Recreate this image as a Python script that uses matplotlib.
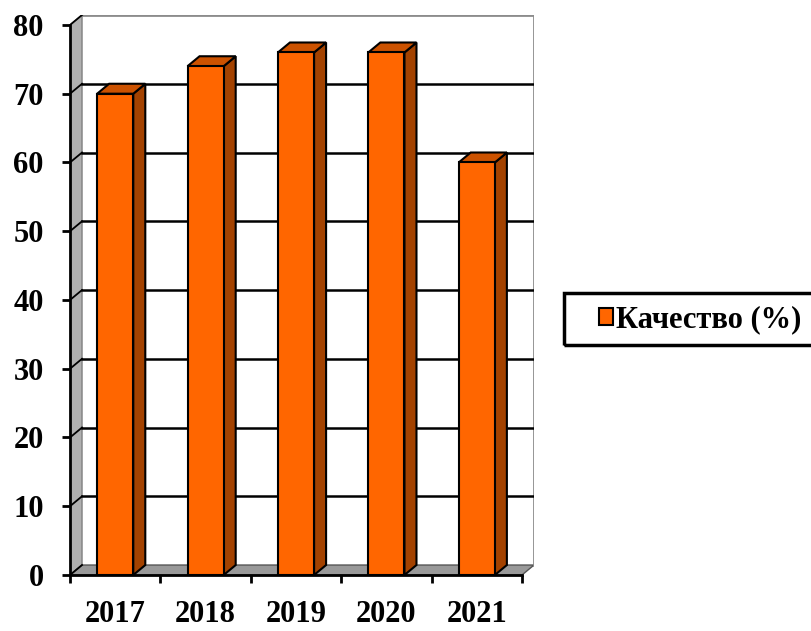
import matplotlib.pyplot as plt
from matplotlib.patches import Polygon, Rectangle, Patch

years = ['2017', '2018', '2019', '2020', '2021']
quality = [70, 74, 76, 76, 60]
series_name = 'Качество (%)'

plt.rcParams['font.family'] = ['Liberation Serif', 'DejaVu Serif']
plt.rcParams['font.weight'] = 'bold'

front = '#FF6600'
side = '#A34200'
top = '#CC5200'

# depth of the fake 3d box (data units)
dx, dy = 0.133, 1.45
ymax = 80
n = len(years)

fig = plt.figure(figsize=(8.11, 6.31), dpi=100)
ax = fig.add_axes([70 / 811, 56 / 631, 464 / 811, 560 / 631])
ax.set_xlim(0, n + dx)
ax.set_ylim(0, ymax + dy)

# left wall and floor
ax.add_patch(Polygon([(0, 0), (dx, dy), (dx, ymax + dy), (0, ymax)],
                     closed=True, facecolor='#B0B0B0', edgecolor='#808080', lw=1, zorder=1))
ax.add_patch(Polygon([(0, 0), (n, 0), (n + dx, dy), (dx, dy)],
                     closed=True, facecolor='#999999', edgecolor='#555555', lw=1, zorder=1))
# back wall border
ax.plot([dx, n + dx, n + dx], [ymax + dy, ymax + dy, dy], color='#8C8C8C', lw=2, zorder=1)

# gridlines on back wall and the short diagonals on left wall
for v in range(10, ymax, 10):
    ax.plot([dx, n + dx], [v + dy, v + dy], color='black', lw=1.8, zorder=2)
for v in range(0, ymax + 1, 10):
    ax.plot([0, dx], [v, v + dy], color='black', lw=1.3, zorder=2)

# bars
w = 0.4
for i, v in enumerate(quality):
    x0 = i + 0.5 - w / 2
    ax.add_patch(Polygon([(x0 + w, 0), (x0 + w + dx, dy), (x0 + w + dx, v + dy), (x0 + w, v)],
                         closed=True, facecolor=side, edgecolor='black', lw=1.5, zorder=3))
    ax.add_patch(Polygon([(x0, v), (x0 + dx, v + dy), (x0 + w + dx, v + dy), (x0 + w, v)],
                         closed=True, facecolor=top, edgecolor='black', lw=1.5, zorder=3))
    ax.add_patch(Rectangle((x0, 0), w, v, facecolor=front, edgecolor='black', lw=1.5, zorder=4))

# axes
for s in ['top', 'right']:
    ax.spines[s].set_visible(False)
ax.spines['left'].set_bounds(0, ymax)
ax.spines['bottom'].set_bounds(0, n)
ax.spines['left'].set_linewidth(2)
ax.spines['bottom'].set_linewidth(2)
ax.spines['left'].set_zorder(5)
ax.spines['bottom'].set_zorder(5)

ax.set_yticks(range(0, ymax + 1, 10))
ax.tick_params(axis='y', length=6, width=2, pad=13, labelsize=22)
ax.set_xticks(range(0, n + 1))
ax.set_xticklabels([])
ax.set_xticks([i + 0.5 for i in range(n)], minor=True)
ax.set_xticklabels(years, minor=True)
ax.tick_params(axis='x', which='major', length=6, width=2)
ax.tick_params(axis='x', which='minor', length=6, width=0, pad=12, labelsize=22)

# legend with a frame that runs off the right edge
handle = Patch(facecolor=front, edgecolor='black', lw=1.5)
fig.legend([handle], [series_name], loc='center left',
           bbox_to_anchor=(599 / 811, 1 - 320 / 631), frameon=False,
           borderaxespad=0, borderpad=0,
           handlelength=0.45, handleheight=0.45, handletextpad=0.1,
           prop={'size': 22, 'weight': 'bold'})
fig.patches.append(Rectangle((564 / 811, 1 - 345 / 631), 260 / 811, 52 / 631,
                             transform=fig.transFigure, fill=False,
                             edgecolor='black', lw=2.5))

fig.savefig('out.png', dpi=100)
